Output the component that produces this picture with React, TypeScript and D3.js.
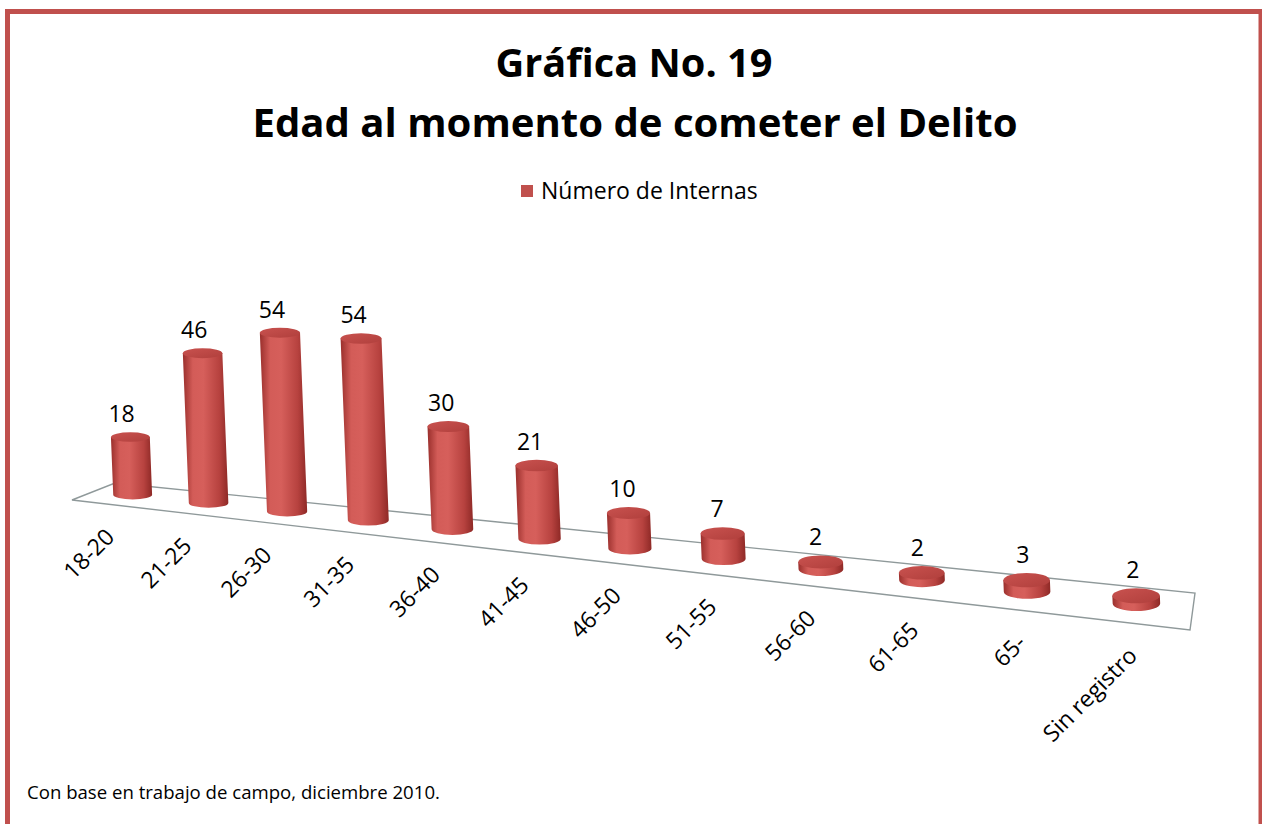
import React from 'react';
import * as d3 from 'd3';

const categories = ['18-20', '21-25', '26-30', '31-35', '36-40', '41-45', '46-50', '51-55', '56-60', '61-65', '65-', 'Sin registro'];
const values = [18, 46, 54, 54, 30, 21, 10, 7, 2, 2, 3, 2];
const seriesName = 'Número de Internas';
const titleLines = ['Gráfica No. 19', 'Edad al momento de cometer el Delito'];
const footnote = 'Con base en trabajo de campo, diciembre 2010.';

const W = 1262;
const H = 824;
const RED = '#C0504D';
const FONT = '"Open Sans", "Noto Sans", sans-serif';

// floor quad corners (back-left, back-right, front-left, front-right)
const BL: [number, number] = [115, 483];
const BR: [number, number] = [1195, 593];
const FL: [number, number] = [72, 500];
const FR: [number, number] = [1190, 630];
const LAMBDA = 1.245; // perspective compression toward the back-left

const persp = (u: number) => u / (u + LAMBDA * (1 - u));
const depthW = (u: number) => u + LAMBDA * (1 - u);
const floorPt = (phi: number, v: number): [number, number] => {
  const bx = BL[0] + (BR[0] - BL[0]) * phi;
  const by = BL[1] + (BR[1] - BL[1]) * phi;
  const fx = FL[0] + (FR[0] - FL[0]) * phi;
  const fy = FL[1] + (FR[1] - FL[1]) * phi;
  return [bx + (fx - bx) * v, by + (fy - by) * v];
};

export default function App() {
  const band = d3.scaleBand<string>().domain(categories).range([0, 1]).paddingInner(0).paddingOuter(0);
  const yScale = d3.scaleLinear().domain([0, 60]).range([0, 60 * 3.95]);
  const R0 = 24;

  const bars = categories.map((c, i) => {
    const u = (band(c) as number) + band.bandwidth() / 2;
    const phi = persp(u);
    const w = depthW(u);
    const [bx, by] = floorPt(phi, 0.45);
    const h = yScale(values[i]) / w;
    const r = R0 / w;
    const ry = r * (0.24 + 0.08 * phi);
    const tx = bx - 0.04 * h;
    const ty = by - h;
    const fp = floorPt(phi, 1);
    return { c, v: values[i], phi, bx, by, tx, ty, r, ry, fp };
  });

  const floorPath = d3.path();
  floorPath.moveTo(FL[0], FL[1]);
  floorPath.lineTo(BL[0], BL[1]);
  floorPath.lineTo(BR[0], BR[1]);
  floorPath.lineTo(FR[0], FR[1]);
  floorPath.closePath();

  return (
    <svg width={W} height={H} style={{ position: 'absolute', left: 0, top: 0, background: '#fff' }} fontFamily={FONT}>
      <defs>
        <linearGradient id="cyl" x1="0" x2="1" y1="0" y2="0">
          <stop offset="0" stopColor="#9a2f2c" />
          <stop offset="0.22" stopColor="#d35c58" />
          <stop offset="0.45" stopColor="#d65f5b" />
          <stop offset="0.8" stopColor="#b7423f" />
          <stop offset="1" stopColor="#8e2926" />
        </linearGradient>
        <linearGradient id="cyltop" x1="0" x2="1" y1="0" y2="1">
          <stop offset="0" stopColor="#c9524f" />
          <stop offset="1" stopColor="#b03f3c" />
        </linearGradient>
      </defs>
      <rect x={7.5} y={11.5} width={1253.5} height={840} fill="#fff" stroke={RED} strokeWidth={5} />

      <text x={634} y={77} textAnchor="middle" fontWeight={700} fontSize={39} textLength={277} lengthAdjust="spacingAndGlyphs" fill="#000">{titleLines[0]}</text>
      <text x={635} y={137} textAnchor="middle" fontWeight={700} fontSize={39} textLength={765} lengthAdjust="spacingAndGlyphs" fill="#000">{titleLines[1]}</text>

      <rect x={521} y={185} width={12} height={12} fill={RED} />
      <text x={541} y={199} fontSize={23} fill="#000">{seriesName}</text>

      <path d={floorPath.toString()} fill="none" stroke="#8f999a" strokeWidth={1.4} />

      {bars.map((b) => {
        const p = d3.path();
        p.moveTo(b.bx - b.r, b.by);
        p.lineTo(b.tx - b.r, b.ty);
        p.lineTo(b.tx + b.r, b.ty);
        p.lineTo(b.bx + b.r, b.by);
        const body = p.toString() + `A${b.r},${b.ry} 0 0 1 ${b.bx - b.r},${b.by}Z`;
        return (
          <g key={b.c}>
            <path d={body} fill="url(#cyl)" />
            <ellipse cx={b.tx} cy={b.ty} rx={b.r} ry={b.ry} fill="url(#cyltop)" />
            <text x={b.tx - 9 + 6 * b.phi} y={b.ty - b.ry - 10} textAnchor="middle" fontSize={23} fill="#000">{b.v}</text>
            <text
              transform={`translate(${b.fp[0] + 6},${b.fp[1] + 34}) rotate(-45)`}
              textAnchor="end"
              fontSize={23}
              fill="#000"
            >{b.c}</text>
          </g>
        );
      })}

      <text x={27} y={799} fontSize={18.6} fill="#000">{footnote}</text>
    </svg>
  );
}
